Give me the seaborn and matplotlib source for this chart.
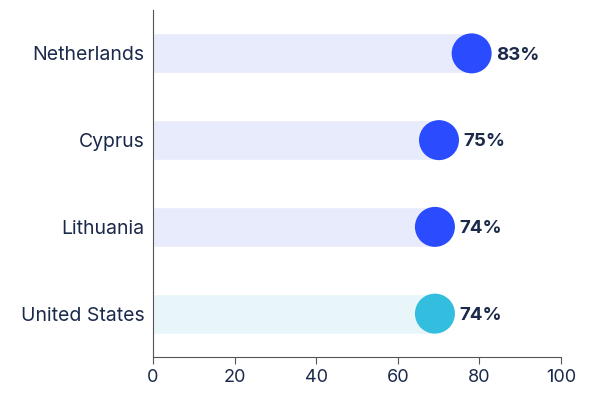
import matplotlib
matplotlib.use("Agg")
import matplotlib.pyplot as plt
import seaborn as sns
import pandas as pd

countries = ["Netherlands", "Cyprus", "Lithuania", "United States"]
values = [83, 75, 74, 74]
labels = ["83%", "75%", "74%", "74%"]
dot_colors = ["#2B4BFF", "#2B4BFF", "#2B4BFF", "#33BEE0"]
bar_colors = ["#E8EBFC", "#E8EBFC", "#E8EBFC", "#E8F6FA"]

sns.set_style("white")
plt.rcParams['font.family'] = ['Inter', 'DejaVu Sans']
text_color = "#1B2A4A"

fig = plt.figure(figsize=(6.01, 3.95), dpi=100)
ax = fig.add_axes([153/601, 38/395, 408/601, 347/395])

radius = 4.9  # circle radius in data units (style offset)
df = pd.DataFrame({"country": countries, "value": values})
df["center"] = df["value"] - radius

sns.barplot(data=df, y="country", x="center", hue="country", palette=bar_colors,
            orient="h", width=0.46, ax=ax, legend=False, saturation=1)
sns.scatterplot(data=df, y="country", x="center", hue="country", palette=dot_colors,
                s=830, ax=ax, legend=False, edgecolor="none", zorder=3)

for i, (v, lab) in enumerate(zip(values, labels)):
    ax.text(v + 1.0, i + 0.02, lab, va="center", ha="left", fontsize=13.5, fontweight="bold",
            color=text_color)

ax.set_xlim(0, 100)
ax.set_ylim(3.5, -0.5)
ax.set_xticks([0, 20, 40, 60, 80, 100])
ax.set_xlabel("")
ax.set_ylabel("")
for s in ["top", "right"]:
    ax.spines[s].set_visible(False)
ax.spines["left"].set_color("#555555")
ax.spines["bottom"].set_color("#555555")
ax.tick_params(axis="x", length=5, color="#555555", labelsize=13, labelcolor=text_color, bottom=True)
ax.tick_params(axis="y", length=0, labelsize=14, labelcolor=text_color, pad=6)

fig.savefig("out.png", dpi=100)
